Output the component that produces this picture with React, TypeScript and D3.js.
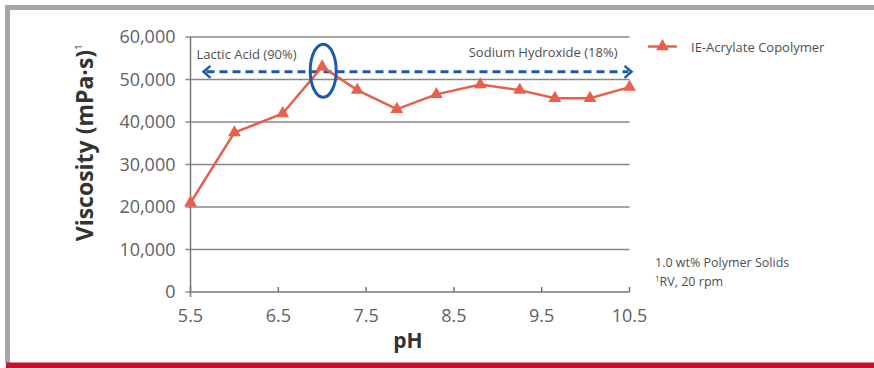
import React from "react";
import * as d3 from "d3";

// Viscosity of the copolymer across the pH sweep
const phValues = [5.5, 6.0, 6.55, 7.0, 7.4, 7.85, 8.3, 8.8, 9.25, 9.65, 10.05, 10.5];
const viscosity = [21000, 37500, 42000, 53000, 47500, 43000, 46500, 48800, 47500, 45600, 45600, 48200];

const xTicks = [5.5, 6.5, 7.5, 8.5, 9.5, 10.5];
const yTicks = [0, 10000, 20000, 30000, 40000, 50000, 60000];

const seriesName = "IE-Acrylate Copolymer";
const acidLabel = "Lactic Acid (90%)";
const baseLabel = "Sodium Hydroxide (18%)";
const arrowLevel = 51800;
const noteLines = ["1.0 wt% Polymer Solids", "RV, 20 rpm"];

const W = 874;
const H = 368;
const plot = { left: 190.5, right: 629.5, top: 37, bottom: 292 };

const FONT = "'Open Sans', 'Noto Sans', sans-serif";
const LINE = "#e8604a";
const BLUE = "#1f5aa6";
const GRID = "#888";
const FRAME = "#a9a5a8";
const RED = "#c8102e";

export default function App() {
  const x = d3.scaleLinear().domain([5.5, 10.5]).range([plot.left, plot.right]);
  const y = d3.scaleLinear().domain([0, 60000]).range([plot.bottom, plot.top]);

  const pts = phValues.map((p, i) => [x(p), y(viscosity[i])] as [number, number]);
  const line = d3.line()(pts) ?? "";
  const tri = d3.symbol().type(d3.symbolTriangle).size(72)() ?? "";
  const fmt = d3.format(",");

  const peakIdx = d3.maxIndex(viscosity);
  const px = x(phValues[peakIdx]);
  const py = y(viscosity[peakIdx]);
  const ay = y(arrowLevel);
  const ax0 = plot.left + 13;
  const ax1 = plot.right + 2;

  return (
    <svg
      width={W}
      height={H}
      viewBox={`0 0 ${W} ${H}`}
      style={{ position: "absolute", left: 0, top: 0, background: "#fff" }}
    >
      {/* frame */}
      <rect x={5} y={5} width={W - 5} height={5} fill={FRAME} />
      <rect x={5} y={5} width={5} height={358} fill={FRAME} />
      <rect x={6} y={362.5} width={W - 6} height={5.5} fill={RED} />

      {/* grid + y ticks */}
      {yTicks.map((t) => (
        <g key={t}>
          <line
            x1={plot.left - 5}
            x2={t > 0 ? plot.right : plot.left}
            y1={y(t)}
            y2={y(t)}
            stroke={GRID}
            strokeWidth={1.5}
          />
          <text
            x={plot.left - 15}
            y={y(t) + 6}
            textAnchor="end"
            fontFamily={FONT}
            fontSize={18}
            fill="#5f5f5f"
          >
            {fmt(t)}
          </text>
        </g>
      ))}

      {/* axes */}
      <line x1={plot.left} x2={plot.left} y1={plot.top} y2={plot.bottom + 5} stroke="#777" strokeWidth={1.5} />
      <line x1={plot.left} x2={plot.right} y1={plot.bottom} y2={plot.bottom} stroke="#777" strokeWidth={1.5} />
      {xTicks.map((t) => (
        <g key={t}>
          <line x1={x(t)} x2={x(t)} y1={plot.bottom} y2={plot.bottom - 5} stroke="#777" strokeWidth={1.5} />
          <text x={x(t)} y={plot.bottom + 30} textAnchor="middle" fontFamily={FONT} fontSize={18} fill="#5f5f5f">
            {t.toFixed(1)}
          </text>
        </g>
      ))}

      {/* axis titles */}
      <text x={408} y={348} textAnchor="middle" fontFamily={FONT} fontWeight={700} fontSize={21} fill="#333">
        pH
      </text>
      <text
        transform="translate(93,143) rotate(-90)"
        textAnchor="middle"
        fontFamily={FONT}
        fontWeight={700}
        fontSize={23}
        fill="#333"
      >
        Viscosity (mPa·s)
        <tspan fontSize={9} fontWeight={400} dy={-11}>1</tspan>
      </text>

      {/* dashed pH-adjust arrow */}
      <line
        x1={ax0 + 3}
        x2={ax1 - 3}
        y1={ay}
        y2={ay}
        stroke={BLUE}
        strokeWidth={3}
        strokeDasharray="8 5"
      />
      <path
        d={`M${ax0 + 7},${ay - 6} L${ax0},${ay} L${ax0 + 7},${ay + 6}`}
        fill="none"
        stroke={BLUE}
        strokeWidth={2.5}
      />
      <path
        d={`M${ax1 - 7},${ay - 6} L${ax1},${ay} L${ax1 - 7},${ay + 6}`}
        fill="none"
        stroke={BLUE}
        strokeWidth={2.5}
      />
      <text x={plot.left + 6} y={59} fontFamily={FONT} fontSize={13} fill="#4f4f4f">
        {acidLabel}
      </text>
      <text x={plot.right - 12} y={57} textAnchor="end" fontFamily={FONT} fontSize={13} fill="#4f4f4f">
        {baseLabel}
      </text>

      {/* series */}
      <path d={line} fill="none" stroke={LINE} strokeWidth={2.5} />
      {pts.map(([cx, cy], i) => (
        <path key={i} d={tri} transform={`translate(${cx},${cy})`} fill={LINE} />
      ))}

      {/* highlighted maximum */}
      <ellipse cx={px + 1} cy={py + 4} rx={13} ry={26.5} fill="none" stroke={BLUE} strokeWidth={3} />

      {/* legend */}
      <line x1={648} x2={677} y1={46.5} y2={46.5} stroke={LINE} strokeWidth={2.5} />
      <path d={tri} transform="translate(662.5,46.5)" fill={LINE} />
      <text x={691} y={51.5} fontFamily={FONT} fontSize={13} fill="#4f4f4f">
        {seriesName}
      </text>

      {/* notes */}
      <text x={655} y={267} fontFamily={FONT} fontSize={12.5} fill="#4f4f4f">
        {noteLines[0]}
      </text>
      <text x={655} y={286} fontFamily={FONT} fontSize={12.5} fill="#4f4f4f">
        <tspan fontSize={8} dy={-5}>1</tspan>
        <tspan dy={5}>{noteLines[1]}</tspan>
      </text>
    </svg>
  );
}
